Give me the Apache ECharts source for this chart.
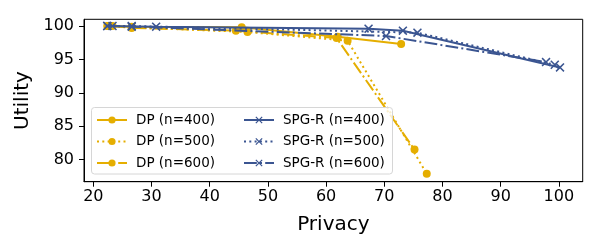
<!DOCTYPE html>
<html>
<head>
<meta charset="utf-8">
<script src="https://cdn.jsdelivr.net/npm/echarts@6/dist/echarts.min.js"></script>
<style>html,body{margin:0;padding:0;background:#fff}#c{width:600px;height:250px}</style>
</head>
<body>
<div id="c"></div>
<script>
// ---- data ----
const dp400X = [22.5, 26.6, 45.5, 62.0, 72.9];
const dp400Y = [100.0, 99.9, 99.8, 98.4, 97.3];
const dp500X = [22.4, 26.6, 46.5, 63.7, 77.3];
const dp500Y = [100.0, 99.8, 99.1, 97.8, 77.9];
const dp600X = [23.3, 26.6, 44.5, 61.8, 75.2];
const dp600Y = [100.0, 99.7, 99.3, 98.2, 81.5];
const spg400X = [22.4, 30.8, 67.3, 73.2, 100.2];
const spg400Y = [100.0, 99.9, 99.6, 99.3, 93.8];
const spg500X = [23.3, 26.6, 75.7, 99.3];
const spg500Y = [100.0, 100.0, 99.0, 94.2];
const spg600X = [22.4, 26.6, 70.3, 97.8];
const spg600Y = [100.0, 99.9, 98.5, 94.6];
const xTicks = [20, 30, 40, 50, 60, 70, 80, 90, 100];
const yTicks = [80, 85, 90, 95, 100];
const names = ['DP (n=400)', 'DP (n=500)', 'DP (n=600)', 'SPG-R (n=400)', 'SPG-R (n=500)', 'SPG-R (n=600)'];

const YEL = '#e5ae00';
const BLU = '#3b5591';
const FONT = 'DejaVu Sans';
const CROSS = 'path://M0,1.2L1.2,0L5,3.8L8.8,0L10,1.2L6.2,5L10,8.8L8.8,10L5,6.2L1.2,10L0,8.8L3.8,5Z';
const DOT = [2, 3.3];
const DASHDOT = [12.8, 3.2, 2, 3.2];

function pairs(xs, ys) { return xs.map((x, i) => [x, ys[i]]); }
function mk(name, xs, ys, color, type, symbol, size) {
  return {
    name, type: 'line', data: pairs(xs, ys),
    symbol, symbolSize: size, showSymbol: true,
    lineStyle: { color, width: 2, type },
    itemStyle: { color, borderColor: color, borderWidth: 0 },
    emphasis: { disabled: true },
    animation: false, z: color === BLU ? 3 : 2
  };
}

const series = [
  mk(names[0], dp400X, dp400Y, YEL, 'solid', 'circle', 8),
  mk(names[1], dp500X, dp500Y, YEL, DOT, 'circle', 8),
  mk(names[2], dp600X, dp600Y, YEL, DASHDOT, 'circle', 8),
  mk(names[3], spg400X, spg400Y, BLU, 'solid', CROSS, 9),
  mk(names[4], spg500X, spg500Y, BLU, DOT, CROSS, 9),
  mk(names[5], spg600X, spg600Y, BLU, DASHDOT, CROSS, 9)
];

const legendCommon = {
  orient: 'vertical', itemWidth: 30, itemHeight: 9, itemGap: 7.5,
  textStyle: { fontFamily: FONT, fontSize: 13.5, color: '#000', padding: [0, 0, 0, 4] },
  selectedMode: false, z: 10
};

const chart = echarts.init(document.getElementById('c'), null, { renderer: 'canvas' });
chart.setOption({
  animation: false,
  grid: { left: 84, right: 17.3, top: 19.3, bottom: 68.3, show: true, borderColor: '#000', borderWidth: 1, backgroundColor: 'transparent' },
  xAxis: {
    type: 'value', min: 18.4, max: 104.1,
    name: 'Privacy', nameLocation: 'middle', nameGap: 33,
    nameTextStyle: { fontFamily: FONT, fontSize: 20, color: '#000' },
    axisLine: { show: true, lineStyle: { color: '#000', width: 1 } },
    axisTick: { show: true, length: 5, lineStyle: { color: '#000' }, customValues: xTicks },
    axisLabel: { fontFamily: FONT, fontSize: 16, color: '#000', margin: 7, customValues: xTicks },
    splitLine: { show: false }
  },
  yAxis: {
    type: 'value', min: 76.7, max: 101.0,
    name: 'Utility', nameLocation: 'middle', nameGap: 47,
    nameTextStyle: { fontFamily: FONT, fontSize: 20, color: '#000' },
    axisLine: { show: true, lineStyle: { color: '#000', width: 1 } },
    axisTick: { show: true, length: 5, lineStyle: { color: '#000' }, customValues: yTicks },
    axisLabel: { fontFamily: FONT, fontSize: 16, color: '#000', margin: 10, customValues: yTicks },
    splitLine: { show: false }
  },
  legend: [
    Object.assign({ left: 96, top: 113, padding: 0, data: names.slice(0, 3) }, legendCommon),
    Object.assign({ left: 243, top: 113, padding: 0, data: names.slice(3, 6) }, legendCommon)
  ],
  graphic: [{
    type: 'rect', z: 5, silent: true,
    shape: { x: 91.5, y: 107.5, width: 301, height: 66.5, r: 3 },
    style: { fill: 'rgba(255,255,255,0.8)', stroke: '#d6d6d6', lineWidth: 1 }
  }],
  series
});
</script>
</body>
</html>
